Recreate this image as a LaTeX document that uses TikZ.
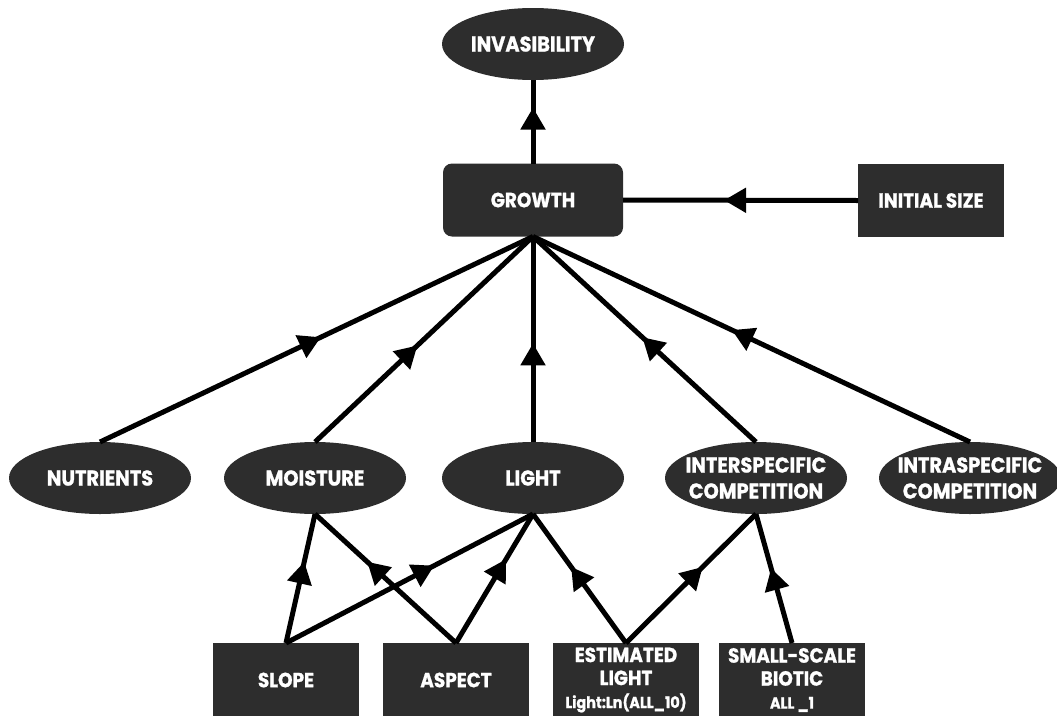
\documentclass[tikz,border=0pt]{standalone}
\usepackage{fontspec}
\setmainfont{Poppins}[FakeStretch=0.9, FakeBold=1]
\usetikzlibrary{shapes.geometric,arrows.meta,decorations.markings}
\definecolor{dark}{RGB}{45,45,45}
\tikzset{
  every node/.style={inner sep=0pt, outer sep=0pt},
  ellnode/.style={ellipse, fill=dark, minimum width=182pt, minimum height=72pt},
  ellbl/.style={text=white, align=center, font=\fontsize{21.5}{26}\selectfont\bfseries},
  boxnode/.style={rectangle, fill=dark, minimum width=146pt, minimum height=73pt,
    text=white, align=center, font=\fontsize{20.5}{23}\selectfont\bfseries},
  conn/.style={line width=5pt, black},
  midarr/.style={decoration={markings, mark=at position #1 with {\arrow{Triangle[length=22pt,width=24pt]}}}, postaction={decorate}},
}
\begin{document}
\begin{tikzpicture}[x=1pt,y=-1pt]
\useasboundingbox (0,0) rectangle (1057,715);
% top
\node[ellnode, label={[ellbl]center:INVASIBILITY}] (inv) at (533,44) {};
\node[boxnode, minimum width=180pt, rounded corners=9pt] (growth) at (533,200) {GROWTH};
\node[boxnode] (init) at (931,200.5) {INITIAL SIZE};
% middle row
\node[ellnode, label={[ellbl]center:NUTRIENTS}] (nutr) at (100,478) {};
\node[ellnode, label={[ellbl]center:MOISTURE}] (moist) at (315,478) {};
\node[ellnode, label={[ellbl]center:LIGHT}] (light) at (533,478) {};
\node[ellnode, label={[ellbl]center:{INTERSPECIFIC\\COMPETITION}}] (inter) at (756,478) {};
\node[ellnode, label={[ellbl]center:{INTRASPECIFIC\\COMPETITION}}] (intra) at (970,478) {};
% bottom row
\node[boxnode, minimum height=74pt] (slope) at (286,680) {SLOPE};
\node[boxnode, minimum height=74pt] (aspect) at (456,680) {ASPECT};
\node[boxnode, minimum height=74pt] (est) at (626,680) {ESTIMATED\\LIGHT\\{\fontsize{16}{18}\selectfont Light:Ln(ALL\_10)}};
\node[boxnode, minimum height=74pt] (small) at (792,680) {SMALL-SCALE\\BIOTIC\\{\fontsize{16}{18}\selectfont ALL \_1}};
% connectors top
\draw[conn, midarr=0.67] (growth.north) -- (inv.south);
\draw[conn, midarr=0.57] (init.west) -- (growth.east);
\draw[conn, midarr=0.51] (nutr.north) -- (growth.south);
\draw[conn, midarr=0.47] (moist.north) -- (growth.south);
\draw[conn, midarr=0.48] (light.north) -- (growth.south);
\draw[conn, midarr=0.51] (inter.north) -- (growth.south);
\draw[conn, midarr=0.545] (intra.north) -- (growth.south);
% connectors bottom
\draw[conn, midarr=0.63] (slope.north) -- (moist.south);
\draw[conn, midarr=0.6] (slope.north) -- (light.south);
\draw[conn, midarr=0.63] (aspect.north) -- (moist.south);
\draw[conn, midarr=0.65] (aspect.north) -- (light.south);
\draw[conn, midarr=0.59] (est.north) -- (light.south);
\draw[conn, midarr=0.59] (est.north) -- (inter.south);
\draw[conn, midarr=0.58] (small.north) -- (inter.south);
\end{tikzpicture}
\end{document}
